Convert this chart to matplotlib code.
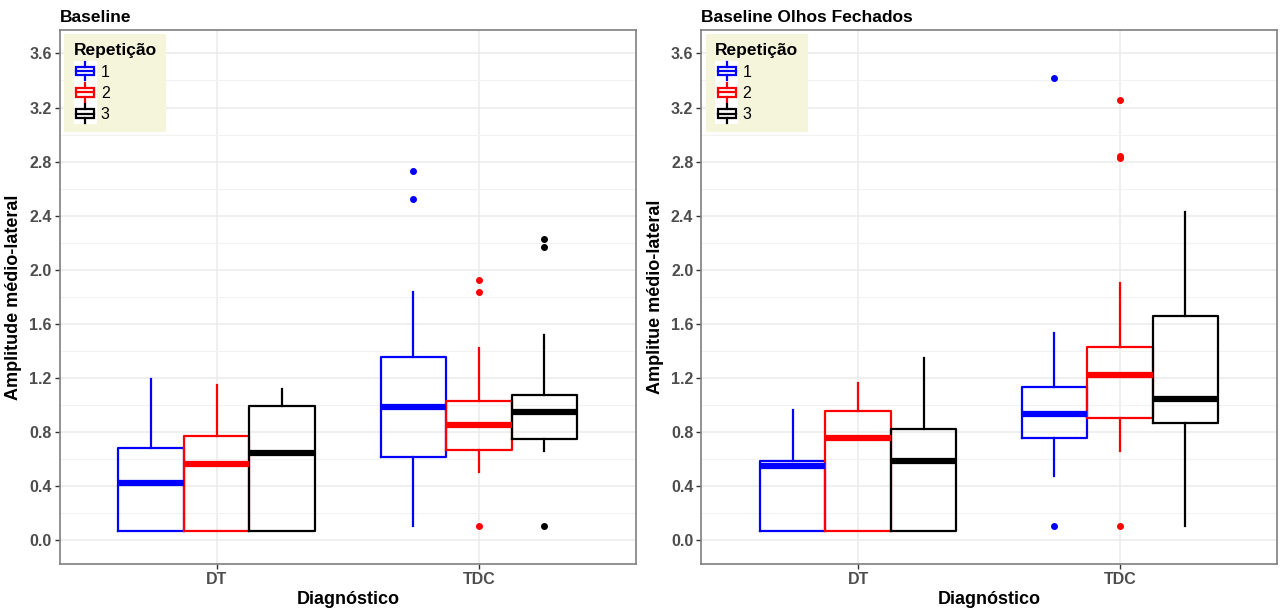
import matplotlib
matplotlib.use("Agg")
import matplotlib.pyplot as plt
from matplotlib.legend_handler import HandlerBase
from matplotlib.patches import Rectangle
from matplotlib.lines import Line2D

plt.rcParams['font.family'] = ['Liberation Sans', 'DejaVu Sans']

categories = ["DT", "TDC"]
repetitions = ["1", "2", "3"]
colors = ["#0000FF", "#FF0000", "#000000"]
yticks = [0.0, 0.4, 0.8, 1.2, 1.6, 2.0, 2.4, 2.8, 3.2, 3.6]
ytick_labels = ["0.0", "0.4", "0.8", "1.2", "1.6", "2.0", "2.4", "2.8", "3.2", "3.6"]

# Panel 1: Baseline  -- rows = categories (DT, TDC), cols = repetitions (1, 2, 3)
base_whislo = [[0.071, 0.066, 0.071], [0.108, 0.507, 0.658]]
base_q1     = [[0.071, 0.066, 0.071], [0.616, 0.670, 0.746]]
base_med    = [[0.424, 0.564, 0.647], [0.987, 0.854, 0.950]]
base_q3     = [[0.680, 0.773, 0.990], [1.357, 1.027, 1.074]]
base_whishi = [[1.190, 1.148, 1.120], [1.837, 1.419, 1.515]]
base_fliers = [[[], [], []], [[2.727, 2.525], [1.922, 1.835, 0.103], [2.227, 2.170, 0.106]]]

# Panel 2: Baseline Olhos Fechados
closed_whislo = [[0.071, 0.071, 0.071], [0.477, 0.660, 0.108]]
closed_q1     = [[0.071, 0.071, 0.071], [0.754, 0.906, 0.867]]
closed_med    = [[0.549, 0.758, 0.586], [0.933, 1.220, 1.044]]
closed_q3     = [[0.586, 0.956, 0.823], [1.135, 1.431, 1.658]]
closed_whishi = [[0.961, 1.160, 1.350], [1.530, 1.900, 2.429]]
closed_fliers = [[[], [], []], [[3.417, 0.108], [3.256, 2.840, 2.825, 0.103], []]]

panels = [
    ("Baseline", "Amplitude médio-lateral",
     base_whislo, base_q1, base_med, base_q3, base_whishi, base_fliers),
    ("Baseline Olhos Fechados", "Amplitue médio-lateral",
     closed_whislo, closed_q1, closed_med, closed_q3, closed_whishi, closed_fliers),
]

W, H = 1281, 612
fig = plt.figure(figsize=(W / 100, H / 100), dpi=100)
axes_px = [(59.5, 30, 636, 564), (701, 30, 1277, 564)]

class BoxHandler(HandlerBase):
    def __init__(self, color):
        super().__init__()
        self.color = color

    def create_artists(self, legend, orig_handle, xdescent, ydescent,
                       width, height, fontsize, trans):
        arts = []
        pad = 2
        bg = Rectangle((-xdescent, -ydescent - pad), width, height + 2 * pad,
                       facecolor="white", edgecolor="none", transform=trans)
        arts.append(bg)
        cx = -xdescent + width / 2
        bw = width * 0.78
        by0 = -ydescent + height * 0.22
        by1 = -ydescent + height * 0.78
        box = Rectangle((cx - bw / 2, by0), bw, by1 - by0, facecolor="white",
                        edgecolor=self.color, linewidth=1.6, transform=trans)
        arts.append(box)
        my = (by0 + by1) / 2
        arts.append(Line2D([cx - bw / 2, cx + bw / 2], [my, my], color=self.color,
                           linewidth=1.6, transform=trans))
        arts.append(Line2D([cx, cx], [by1, -ydescent + height + pad * 0.6], color=self.color,
                           linewidth=1.6, transform=trans))
        arts.append(Line2D([cx, cx], [by0, -ydescent - pad * 0.6], color=self.color,
                           linewidth=1.6, transform=trans))
        return arts

for (title, ylabel, wlo, q1, med, q3, whi, fl), (x0, y0, x1, y1) in zip(panels, axes_px):
    ax = fig.add_axes([x0 / W, 1 - y1 / H, (x1 - x0) / W, (y1 - y0) / H])
    ax.set_facecolor("white")
    for ci, cat in enumerate(categories):
        for ri, rep in enumerate(repetitions):
            st = dict(med=med[ci][ri], q1=q1[ci][ri], q3=q3[ci][ri],
                      whislo=wlo[ci][ri], whishi=whi[ci][ri], fliers=fl[ci][ri])
            col = colors[ri]
            pos = ci + 1 + (ri - 1) * 0.25
            ax.bxp([st], positions=[pos], widths=0.25, showcaps=False,
                   boxprops=dict(color=col, linewidth=1.6),
                   whiskerprops=dict(color=col, linewidth=1.6),
                   medianprops=dict(color=col, linewidth=4.5, solid_capstyle='butt'),
                   flierprops=dict(marker='o', markersize=4, markerfacecolor=col,
                                   markeredgecolor=col, linestyle='none'),
                   zorder=3)
    ax.set_xlim(0.4, 2.6)
    ax.set_ylim(-0.175, 3.773)
    ax.set_xticks([1, 2])
    ax.set_xticklabels(categories)
    ax.set_yticks(yticks)
    ax.set_yticklabels(ytick_labels)
    ax.set_yticks([0.2, 0.6, 1.0, 1.4, 1.8, 2.2, 2.6, 3.0, 3.4], minor=True)
    ax.grid(True, which='major', color="#EBEBEB", linewidth=1.1, zorder=0)
    ax.grid(True, which='minor', axis='y', color="#F2F2F2", linewidth=0.8, zorder=0)
    ax.set_axisbelow(True)
    ax.tick_params(axis='both', which='major', length=3.5, width=1, color="#333333",
                   labelcolor="#4D4D4D", labelsize=11.5, pad=2)
    ax.tick_params(axis='x', which='minor', length=0)
    ax.tick_params(axis='y', which='minor', length=0)
    for lab in ax.get_xticklabels() + ax.get_yticklabels():
        lab.set_fontweight('bold')
    for sp in ax.spines.values():
        sp.set_color("#7F7F7F")
        sp.set_linewidth(1.2)
    ax.set_xlabel("Diagnóstico", fontsize=13, fontweight='bold', labelpad=3)
    ax.set_ylabel(ylabel, fontsize=13, fontweight='bold', labelpad=5)
    ax.set_title(title, loc='left', fontsize=12.5, fontweight='bold', pad=6)

    handles = [Rectangle((0, 0), 1, 1) for _ in repetitions]
    hmap = {h: BoxHandler(c) for h, c in zip(handles, colors)}
    leg = ax.legend(handles, repetitions, handler_map=hmap, title="Repetição",
                    loc='upper left', bbox_to_anchor=(0.008, 0.993), borderaxespad=0,
                    frameon=True, fancybox=False, framealpha=1,
                    facecolor="#F5F5DC", edgecolor="none",
                    fontsize=11.5, title_fontproperties=dict(weight='bold', size=12.5),
                    handlelength=1.45, handleheight=1.1, handletextpad=0.25,
                    labelspacing=0.32, borderpad=0.6, alignment='left')
    leg.set_zorder(5)

fig.savefig("out.png", dpi=100, facecolor="white")
